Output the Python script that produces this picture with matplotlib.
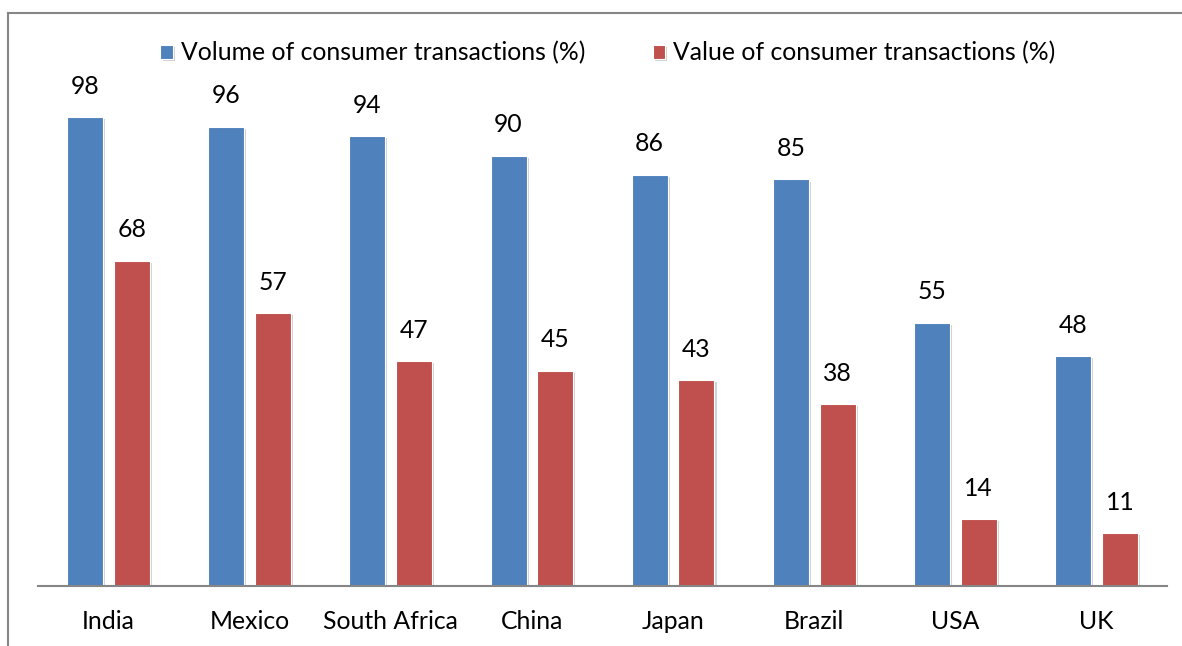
import matplotlib
matplotlib.use("Agg")
import matplotlib.pyplot as plt
import matplotlib.patheffects as pe
from matplotlib.lines import Line2D
import numpy as np

categories = ["India", "Mexico", "South Africa", "China", "Japan", "Brazil", "USA", "UK"]
volume = [98, 96, 94, 90, 86, 85, 55, 48]
value = [68, 57, 47, 45, 43, 38, 14, 11]
series_names = ["Volume of consumer transactions (%)", "Value of consumer transactions (%)"]
colors = ["#4F81BD", "#C0504D"]

plt.rcParams['font.family'] = ['Lato', 'DejaVu Sans']
FS = 17.8

W, H = 1182, 646
fig = plt.figure(figsize=(W / 100, H / 100), dpi=100)
ax = fig.add_axes([38 / W, (H - 586) / H, (1167 - 38) / W, (586 - 12) / H])

x = np.arange(len(categories))
bw = 0.255
off = 0.166
shadow = [pe.SimplePatchShadow(offset=(1.5, -1.5), shadow_rgbFace="#000000", alpha=0.18), pe.Normal()]
b1 = ax.bar(x - off, volume, bw, color=colors[0], edgecolor="#FFFFFF", linewidth=0.8,
            label=series_names[0], path_effects=shadow)
b2 = ax.bar(x + off, value, bw, color=colors[1], edgecolor="#FFFFFF", linewidth=0.8,
            label=series_names[1], path_effects=shadow)

for bars, vals in ((b1, volume), (b2, value)):
    for r, v in zip(bars, vals):
        ax.annotate(str(v), (r.get_x() + r.get_width() / 2, v), xytext=(0, 14),
                    textcoords="offset points", ha="center", va="bottom", fontsize=FS,
                    color="#000000")

ax.set_xlim(-0.5, len(categories) - 0.5)
ax.set_ylim(0, 120)
ax.set_xticks(x)
ax.set_xticklabels(categories, fontsize=FS)
ax.tick_params(axis="x", length=0, pad=17)
ax.set_yticks([])
for s in ("top", "right", "left"):
    ax.spines[s].set_visible(False)
ax.spines["bottom"].set_color("#868686")
ax.spines["bottom"].set_linewidth(1.5)

leg = fig.legend(handles=[b1, b2], labels=series_names, loc="center", bbox_to_anchor=(608 / W, 1 - 53 / H),
                 ncol=2, frameon=False, fontsize=FS, handlelength=0.5, handleheight=0.5,
                 handletextpad=0.32, columnspacing=2.75)

# outer border (left and top edges)
fig.add_artist(Line2D([7.5 / W, 7.5 / W], [0, 1 - 13 / H], transform=fig.transFigure,
                      color="#868686", linewidth=1.5))
fig.add_artist(Line2D([7.5 / W, 1], [1 - 13 / H, 1 - 13 / H], transform=fig.transFigure,
                      color="#868686", linewidth=1.5))

fig.savefig("out.png", dpi=100)
